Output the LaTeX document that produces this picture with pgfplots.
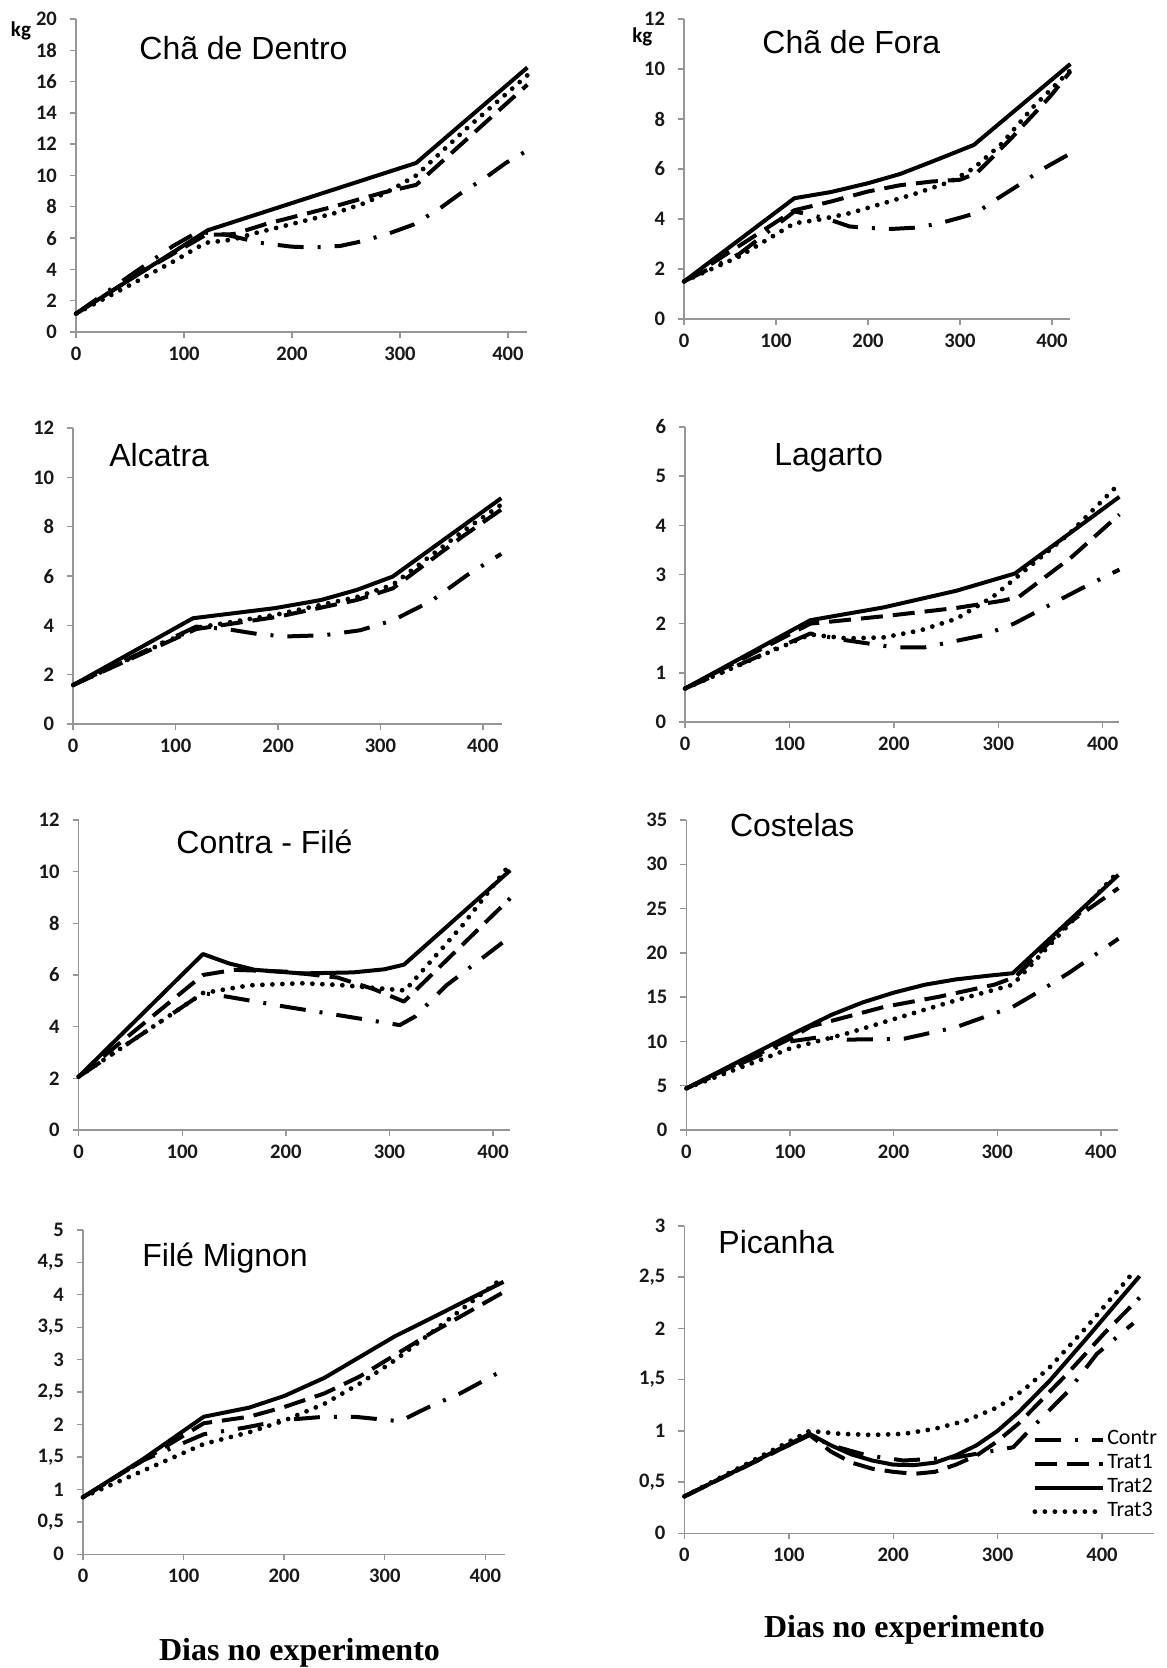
\documentclass[border=0pt]{standalone}
\usepackage{fontspec}
\setmainfont{Liberation Serif}
\newfontfamily\calib{Carlito}
\newfontfamily\arialf{Liberation Sans}
\usepackage{pgfplots}
\pgfplotsset{compat=1.18}
\definecolor{axgray}{RGB}{150,150,150}
\pgfplotsset{
 panel/.style={
   scale only axis,
   axis x line*=bottom, axis y line*=left,
   axis line style={draw=axgray, line width=0.7pt},
   tick style={draw=axgray, line width=0.7pt},
   tick align=outside,
   major tick length=3pt,
   xmin=0, ymin=0,
   xtick={0,100,200,300,400},
   ticklabel style={font=\calib\bfseries\fontsize{10.3}{12}\selectfont, text=black!90},
   yticklabel style={xshift=-3pt},
   xticklabel style={yshift=-1pt},
   /pgf/number format/assume math mode=true,
   /pgf/number format/use comma,
   /pgf/number format/1000 sep={},
   clip=false,
   legend image code/.code={\draw[##1] (0pt,0pt) -- (34pt,0pt);},
 },
 contr/.style={black, line width=2pt, line join=round, dash pattern=on 13pt off 7pt on 1.5pt off 7pt},
 trat1/.style={black, line width=2pt, line join=round, dash pattern=on 11pt off 5pt},
 trat2/.style={black, line width=2pt, line join=round},
 trat3/.style={black, line width=2.4pt, line cap=round, dash pattern=on 0pt off 5pt},
}
\begin{document}
\begin{tikzpicture}
\useasboundingbox (0,0) rectangle (583pt,834pt);

% 1 Cha de Dentro
\begin{axis}[panel, at={(38pt,668pt)}, anchor=south west, width=225.7pt, height=156.5pt,
  xmax=418, ymax=20, ytick={0,2,...,20}]
\addplot[contr] coordinates {(0,1.17)(50,3.6)(90,5.5)(113,6.4)(140,6.2)(170,5.7)(200,5.45)(220,5.4)(245,5.5)(265,5.8)(290,6.3)(312,6.85)(335,7.8)(355,8.8)(380,9.9)(398,10.8)(418,11.6)};
\addplot[trat1] coordinates {(0,1.17)(60,3.8)(120,6.2)(146,6.25)(176,6.9)(238,8.0)(284,8.9)(315,9.4)(360,12.2)(418,15.8)};
\addplot[trat2] coordinates {(0,1.17)(122,6.5)(315,10.8)(418,16.9)};
\addplot[trat3] coordinates {(0,1.17)(50,3.0)(90,4.5)(120,5.7)(145,5.9)(165,6.3)(200,6.9)(240,7.6)(270,8.3)(295,9.2)(315,10.0)(360,12.9)(418,16.4)};
\end{axis}

% 2 Cha de Fora
\begin{axis}[panel, at={(342pt,674.5pt)}, anchor=south west, width=193.2pt, height=150pt,
  xmax=420, ymax=12, ytick={0,2,...,12}]
\addplot[contr] coordinates {(0,1.5)(60,2.6)(120,4.3)(140,4.15)(160,3.95)(180,3.7)(200,3.64)(225,3.6)(250,3.65)(275,3.8)(300,4.05)(317,4.23)(340,4.8)(367,5.43)(390,6.0)(420,6.62)};
\addplot[trat1] coordinates {(0,1.5)(120,4.35)(160,4.7)(200,5.1)(235,5.35)(270,5.5)(300,5.57)(318,5.83)(355,7.2)(398,8.9)(420,9.9)};
\addplot[trat2] coordinates {(0,1.5)(120,4.83)(160,5.08)(200,5.43)(235,5.8)(270,6.3)(315,6.96)(420,10.2)};
\addplot[trat3] coordinates {(0,1.5)(60,2.5)(120,3.83)(145,3.96)(180,4.23)(217,4.63)(253,5.03)(290,5.5)(315,6.03)(345,7.0)(380,8.5)(420,9.95)};
\end{axis}

% 3 Alcatra
\begin{axis}[panel, at={(36.6pt,472pt)}, anchor=south west, width=214.3pt, height=147.9pt,
  xmax=418.5, ymax=12, ytick={0,2,...,12}]
\addplot[contr] coordinates {(0,1.58)(120,3.95)(150,3.85)(180,3.65)(207,3.55)(245,3.6)(280,3.8)(312,4.2)(350,5.0)(385,6.05)(418,6.9)};
\addplot[trat1] coordinates {(0,1.58)(120,3.85)(200,4.35)(277,5.03)(312,5.5)(380,7.6)(418,8.7)};
\addplot[trat2] coordinates {(0,1.58)(117,4.29)(197,4.7)(242,5.03)(277,5.44)(312,5.98)(418,9.16)};
\addplot[trat3] coordinates {(0,1.58)(120,3.9)(200,4.45)(277,5.15)(312,5.65)(380,7.8)(418,8.9)};
\end{axis}

% 4 Lagarto
\begin{axis}[panel, at={(342.5pt,473pt)}, anchor=south west, width=217.2pt, height=147.5pt,
  xmax=416, ymax=6, ytick={0,1,...,6}]
\addplot[contr] coordinates {(0,0.68)(120,1.8)(155,1.66)(200,1.52)(230,1.52)(285,1.76)(315,2.0)(380,2.72)(416,3.1)};
\addplot[trat1] coordinates {(0,0.68)(120,2.0)(190,2.15)(260,2.32)(305,2.47)(320,2.55)(370,3.35)(416,4.22)};
\addplot[trat2] coordinates {(0,0.68)(120,2.07)(190,2.33)(260,2.67)(316,3.02)(416,4.58)};
\addplot[trat3] coordinates {(0,0.68)(120,1.78)(155,1.7)(190,1.72)(225,1.86)(260,2.1)(295,2.55)(318,2.95)(368,3.83)(416,4.85)};
\end{axis}

% 5 Contra-File
\begin{axis}[panel, at={(39.3pt,269pt)}, anchor=south west, width=215.8pt, height=155pt,
  xmax=416.5, ymax=12, ytick={0,2,...,12}]
\addplot[contr] coordinates {(0,2.06)(120,5.3)(145,5.15)(200,4.77)(250,4.45)(310,4.06)(325,4.4)(355,5.6)(409,7.25)};
\addplot[trat1] coordinates {(0,2.06)(120,6.0)(150,6.2)(200,6.13)(250,5.9)(285,5.45)(314,4.97)(416.5,8.97)};
\addplot[trat2] coordinates {(0,2.06)(120,6.81)(145,6.45)(170,6.2)(215,6.06)(265,6.1)(295,6.22)(314,6.4)(416.5,10.05)};
\addplot[trat3] coordinates {(0,2.06)(120,5.3)(165,5.6)(215,5.68)(250,5.62)(285,5.5)(315,5.4)(370,7.9)(416.5,10.3)};
\end{axis}

% 6 Costelas
\begin{axis}[panel, at={(343.2pt,269pt)}, anchor=south west, width=216pt, height=155pt,
  xmax=417, ymax=35, ytick={0,5,...,35}]
\addplot[contr] coordinates {(0,4.7)(100,10.0)(130,10.5)(155,10.2)(210,10.3)(260,11.6)(315,13.9)(340,15.6)(370,17.8)(417,21.6)};
\addplot[trat1] coordinates {(0,4.7)(100,10.3)(120,11.7)(191,13.9)(244,15.05)(297,16.4)(318,17.3)(368,23.3)(417,27.3)};
\addplot[trat2] coordinates {(0,4.7)(50,7.7)(100,10.7)(140,13.0)(170,14.4)(200,15.5)(230,16.4)(260,17.0)(290,17.4)(315,17.7)(417,28.8)};
\addplot[trat3] coordinates {(0,4.7)(100,9.2)(155,10.9)(208,12.8)(262,14.7)(315,16.4)(417,29.2)};
\end{axis}

% 7 File Mignon
\begin{axis}[panel, at={(41.5pt,56.85pt)}, anchor=south west, width=211pt, height=162.2pt,
  xmax=419.5, ymax=5, ytick={0,0.5,...,5}]
\addplot[contr] coordinates {(0,0.88)(60,1.45)(120,1.85)(160,1.95)(200,2.07)(240,2.12)(270,2.12)(315,2.05)(345,2.28)(375,2.48)(418,2.84)};
\addplot[trat1] coordinates {(0,0.88)(120,2.02)(165,2.12)(200,2.27)(240,2.48)(275,2.74)(310,3.07)(345,3.4)(418,4.04)};
\addplot[trat2] coordinates {(0,0.88)(60,1.47)(120,2.12)(165,2.26)(200,2.44)(240,2.72)(275,3.04)(310,3.36)(345,3.63)(418,4.2)};
\addplot[trat3] coordinates {(0,0.88)(120,1.7)(165,1.88)(200,2.06)(240,2.32)(275,2.63)(310,2.99)(345,3.4)(418,4.27)};
\end{axis}

% 8 Picanha
\begin{axis}[panel, at={(342.2pt,67.35pt)}, anchor=south west, width=234.9pt, height=153.7pt,
  xmax=450, ymax=3, ytick={0,0.5,...,3},
  legend cell align=left,
  legend style={draw=none, fill=none, at={(0.740,0.345)}, anchor=north west,
    font=\calib\fontsize{11}{12}\selectfont, inner sep=0pt, row sep=0pt,
    nodes={inner sep=1pt, text height=7.5pt, text depth=2.5pt}}]
\addplot[contr] coordinates {(0,0.36)(120,0.96)(140,0.86)(175,0.76)(210,0.71)(260,0.74)(315,0.84)(330,1.0)(367,1.38)(395,1.75)(430,2.05)};
\addplot[trat1] coordinates {(0,0.36)(120,0.96)(140,0.8)(160,0.69)(180,0.63)(200,0.6)(220,0.58)(240,0.6)(260,0.67)(280,0.76)(300,0.9)(320,1.07)(345,1.33)(367,1.56)(402,1.95)(436,2.3)};
\addplot[trat2] coordinates {(0,0.36)(120,0.97)(140,0.86)(160,0.77)(180,0.71)(200,0.67)(220,0.665)(240,0.69)(260,0.76)(280,0.86)(300,1.0)(320,1.18)(350,1.49)(385,1.9)(436,2.51)};
\addplot[trat3] coordinates {(0,0.36)(120,1.0)(150,0.97)(180,0.96)(210,0.97)(240,1.02)(270,1.1)(300,1.23)(325,1.4)(350,1.62)(385,2.01)(432,2.57)};
\legend{Contr,Trat1,Trat2,Trat3}
\end{axis}

% titles
\node[anchor=base west, inner sep=0pt, font=\arialf\fontsize{16}{18}\selectfont] at (69.5pt,804pt) {Chã de Dentro};
\node[anchor=base west, inner sep=0pt, font=\arialf\fontsize{16}{18}\selectfont] at (381pt,807pt) {Chã de Fora};
\node[anchor=base west, inner sep=0pt, font=\arialf\fontsize{16}{18}\selectfont] at (54.5pt,600.5pt) {Alcatra};
\node[anchor=base west, inner sep=0pt, font=\arialf\fontsize{16}{18}\selectfont] at (387pt,601pt) {Lagarto};
\node[anchor=base west, inner sep=0pt, font=\arialf\fontsize{16}{18}\selectfont] at (88pt,407pt) {Contra - Filé};
\node[anchor=base west, inner sep=0pt, font=\arialf\fontsize{16}{18}\selectfont] at (364.8pt,415.5pt) {Costelas};
\node[anchor=base west, inner sep=0pt, font=\arialf\fontsize{16}{18}\selectfont] at (71pt,200.5pt) {Filé Mignon};
\node[anchor=base west, inner sep=0pt, font=\arialf\fontsize{16}{18}\selectfont] at (359pt,207pt) {Picanha};
% kg
\node[anchor=base, inner sep=0pt, font=\calib\bfseries\fontsize{10.5}{12}\selectfont] at (10.5pt,815.5pt) {kg};
\node[anchor=base, inner sep=0pt, font=\calib\bfseries\fontsize{10.5}{12}\selectfont] at (321.2pt,812.5pt) {kg};
% x labels
\node[anchor=base, inner sep=0pt, font=\bfseries\fontsize{16}{18}\selectfont] at (149.75pt,4pt) {Dias no experimento};
\node[anchor=base, inner sep=0pt, font=\bfseries\fontsize{16}{18}\selectfont] at (452.25pt,15pt) {Dias no experimento};
\end{tikzpicture}
\end{document}
